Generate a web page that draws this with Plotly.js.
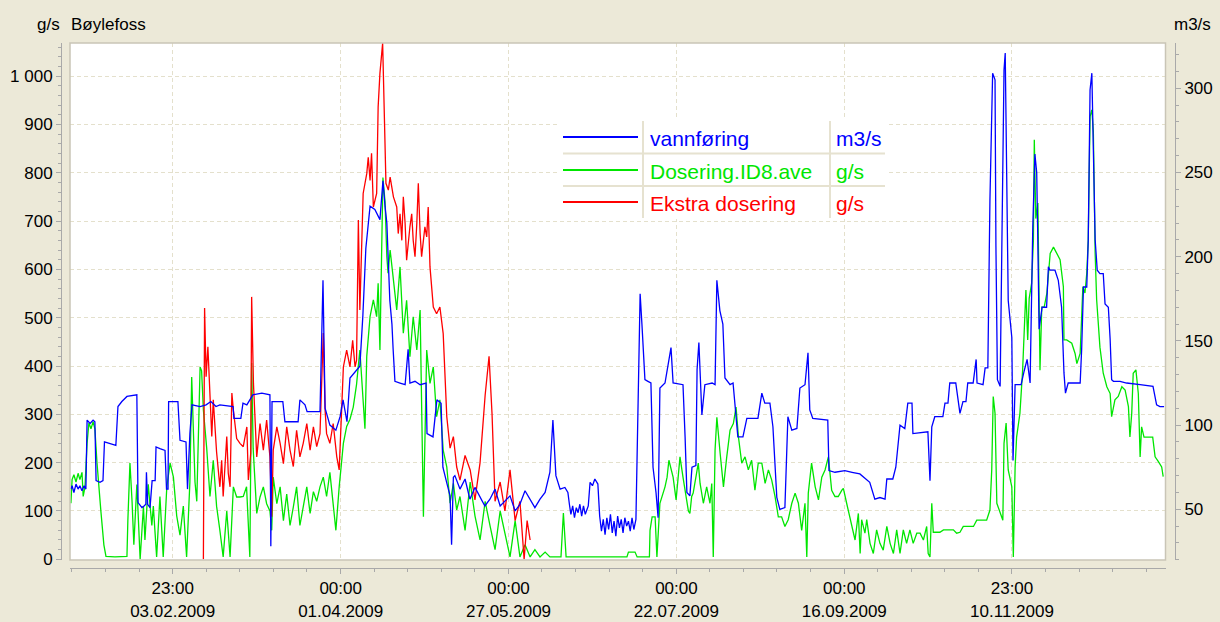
<!DOCTYPE html>
<html>
<head>
<meta charset="utf-8">
<script src="https://cdn.plot.ly/plotly-3.0.1.min.js"></script>
<style>
html,body{margin:0;padding:0;background:#ece9d8;}
#chart{width:1220px;height:622px;}
</style>
</head>
<body>
<div id="chart"></div>
<script>
// x values: days since 01.01.2009 00:00
const dayTicks = [33.958, 90, 146, 202, 258, 313.958];
const dayTickText = ['23:00<br>03.02.2009', '00:00<br>01.04.2009', '00:00<br>27.05.2009',
                     '00:00<br>22.07.2009', '00:00<br>16.09.2009', '23:00<br>10.11.2009'];
const gsTicks = [0, 100, 200, 300, 400, 500, 600, 700, 800, 900, 1000];
const gsTickText = ['0', '100', '200', '300', '400', '500', '600', '700', '800', '900', '1 000'];
const m3Ticks = [50, 100, 150, 200, 250, 300];

const seriesNames = ['vannføring', 'Dosering.ID8.ave', 'Ekstra dosering'];
const seriesUnits = ['m3/s', 'g/s', 'g/s'];

// vannføring (m3/s, right axis)
const flowDays = [0.0,0.4,1.0,1.7,2.4,3.0,3.7,4.4,5.0,5.4,6.4,7.4,8.0,8.4,9.7,10.7,11.2,13.0,15.0,15.7,17.0,18.7,22.0,22.4,23.7,24.4,25.0,25.2,25.6,26.4,27.1,28.1,28.4,29.7,31.4,31.9,32.4,32.6,35.7,36.4,38.4,38.9,39.7,40.4,43.1,45.1,46.7,48.4,49.7,54.1,54.4,56.7,57.4,58.7,60.7,63.7,66.4,66.7,67.1,70.7,71.4,75.8,76.4,78.1,78.8,83.1,84.1,84.8,86.4,88.4,89.8,90.8,92.1,93.1,95.1,96.4,97.4,98.4,99.8,101.4,103.1,104.1,104.8,105.4,106.4,107.1,107.5,108.1,109.8,111.5,112.5,113.1,114.8,116.5,118.5,118.8,120.8,122.1,123.5,124.1,125.5,126.5,127.0,127.6,128.1,129.8,131.5,133.1,134.8,136.5,138.1,139.8,141.5,143.2,144.8,146.5,148.2,149.8,151.5,153.2,154.8,156.5,158.2,159.8,160.8,161.8,163.2,164.8,165.8,166.3,166.8,167.4,168.0,168.6,169.2,169.8,170.4,171.0,171.6,172.2,172.6,173.2,174.0,174.8,175.8,176.4,177.0,177.6,178.2,178.8,179.4,180.0,180.6,181.2,181.8,182.4,183.0,183.6,184.2,184.8,185.4,186.0,186.6,187.2,187.8,188.5,189.0,189.9,190.5,191.5,192.5,193.5,194.2,195.2,195.9,196.5,198.2,200.2,200.9,203.2,204.2,204.9,205.5,206.5,207.2,208.5,208.9,209.5,210.5,211.5,213.9,214.9,215.2,215.5,216.5,217.5,218.2,219.9,220.9,221.5,222.5,224.2,225.5,229.2,230.5,231.5,233.2,234.2,235.5,236.5,238.2,239.2,240.5,242.2,243.2,244.9,245.9,246.5,247.5,252.5,252.9,254.9,258.2,260.6,263.2,266.5,268.2,269.9,271.6,272.2,274.2,275.2,276.6,278.2,279.2,280.6,280.9,285.9,286.6,287.2,288.2,290.9,291.6,292.6,293.2,295.2,296.6,297.6,298.6,299.2,301.0,302.0,302.3,304.3,305.0,305.9,306.6,307.5,308.3,308.6,309.1,310.0,310.6,311.3,311.7,312.2,312.7,313.9,314.3,315.0,317.0,318.0,319.0,320.0,320.9,321.6,322.2,322.5,323.0,324.0,325.5,326.1,326.6,328.3,329.4,330.5,331.3,331.8,332.7,336.7,337.2,337.8,338.9,339.4,340.0,340.6,341.1,341.7,342.4,343.3,344.4,345.0,346.1,346.7,347.2,347.8,350.0,352.2,356.7,361.0,362.2,363.3,364.7];
const flowValues = [62,64,60,65,62,64,61,64,62,103,101,103,102,67,66,67,90,89,88,111,114,117,118,54,51,52,53,72,53,51,67,67,87,86,85,62,62,114,114,91,90,62,95,112,111,112,114,111,112,111,104,104,113,112,118,119,118,28,114,114,102,102,115,112,108,108,186,110,100,97,105,115,102,128,132,135,165,205,230,228,222,245,230,220,174,160,145,126,125,124,145,125,126,124,125,95,93,115,113,75,65,58,29,69,70,62,68,56,63,57,52,56,62,52,55,58,49,53,61,56,51,56,60,72,103,70,62,63,60,53,47,52,45,51,48,53,46,52,47,50,52,66,64,68,65,46,37,44,35,45,38,47,36,43,34,46,39,44,36,45,40,43,37,45,38,44,89,178,160,127,126,125,75,60,45,122,125,146,125,124,124,93,60,58,75,76,133,149,106,124,125,124,162,186,168,160,128,124,125,111,93,93,104,104,119,113,113,99,57,50,51,105,97,98,122,124,143,109,104,103,73,72,73,72,71,66,56,57,56,68,68,75,100,98,113,113,95,96,67,99,105,105,113,113,125,125,107,114,114,125,125,139,125,124,134,134,234,309,305,206,127,123,229,311,321,253,174,152,79,124,124,132,139,125,218,261,250,218,157,170,170,194,192,192,186,170,131,119,125,125,145,182,182,210,299,309,269,210,192,190,190,172,170,151,127,126,126,125,124,123,112,111,111];

// Dosering.ID8.ave (g/s, left axis)
const doseDays = [0.0,0.4,1.0,1.7,2.4,3.0,3.7,4.1,4.7,5.4,6.0,6.7,7.4,8.0,8.7,9.4,10.0,11.0,11.7,14.7,18.7,19.0,19.7,20.4,21.0,22.0,23.1,24.2,24.7,25.8,27.0,27.5,28.6,29.7,30.8,32.0,33.1,34.2,35.3,36.4,37.5,38.6,39.7,40.3,41.4,42.0,43.1,43.6,44.2,45.3,46.4,47.5,48.6,49.7,50.8,52.0,53.1,54.2,55.3,56.4,57.5,58.6,59.7,60.3,60.8,62.0,63.1,64.2,65.3,66.4,67.0,67.5,68.7,69.8,70.9,72.0,73.1,74.2,75.3,76.4,77.5,78.7,79.8,80.9,82.0,83.1,84.2,85.3,86.4,87.5,88.4,89.5,90.9,92.0,93.1,94.2,95.3,96.4,97.5,98.1,98.7,99.8,100.9,102.0,102.5,103.1,104.1,104.8,105.4,105.8,106.5,107.6,108.7,109.8,110.9,112.0,113.1,114.2,115.4,116.5,117.6,118.7,119.8,120.9,122.0,123.1,124.2,125.4,126.5,127.6,128.7,129.8,131.5,133.2,134.8,136.5,138.2,139.8,141.5,143.2,144.8,146.5,148.2,149.8,151.5,153.2,154.8,156.5,158.2,159.8,163.5,164.3,165.2,185.5,186.0,188.2,188.9,193.0,193.2,193.9,194.9,195.5,196.0,196.5,198.2,198.9,199.5,200.9,201.9,203.2,204.2,205.4,206.0,206.5,207.1,207.6,208.8,209.3,209.9,211.0,212.1,213.2,213.8,214.3,214.9,215.5,216.6,217.7,218.8,219.9,221.0,221.9,222.7,223.8,224.9,226.0,227.1,228.2,229.3,230.5,231.6,232.7,233.8,234.9,236.0,237.1,238.2,239.3,240.5,241.6,242.7,243.8,244.9,245.5,246.0,247.1,248.3,249.4,250.5,251.6,252.7,253.8,254.9,256.0,257.2,257.7,258.8,260.5,261.6,262.7,263.3,263.8,264.9,265.5,266.6,267.7,268.8,269.9,271.0,272.2,273.3,274.4,275.5,276.6,277.7,278.8,279.9,281.0,282.2,283.3,284.4,285.5,286.0,286.6,287.2,287.7,289.9,291.1,294.4,295.5,296.6,297.7,301.1,302.2,305.5,306.6,307.2,307.7,308.3,308.9,310.0,310.9,311.3,312.0,312.7,313.9,314.4,315.0,315.5,316.6,317.5,318.6,319.2,319.7,320.5,321.1,321.4,321.9,322.6,323.0,323.3,323.9,324.7,325.6,326.7,327.8,328.9,330.0,331.1,331.3,332.2,333.9,335.0,335.6,336.7,337.6,338.3,338.9,339.4,340.0,340.6,341.1,341.7,342.2,343.3,344.4,345.6,346.7,347.2,348.3,349.4,350.6,351.7,352.8,353.3,353.9,354.4,355.3,356.1,356.7,357.2,358.0,360.9,361.7,362.8,363.9,364.4];
const doseValues = [116,165,175,160,178,165,180,130,150,240,282,270,285,270,200,140,100,30,6,5,6,80,199,120,30,155,0,110,40,155,70,110,5,130,5,150,199,170,90,50,110,5,160,377,160,120,398,390,309,230,130,205,110,60,5,100,5,150,129,129,130,150,5,406,230,95,129,150,115,100,60,170,115,150,80,135,70,108,150,70,110,150,95,140,120,150,170,130,180,110,60,150,240,275,290,315,362,433,330,270,420,502,537,502,571,433,790,740,626,592,640,571,516,605,468,536,419,502,433,516,88,433,364,398,295,330,226,191,116,157,102,130,60,160,90,40,120,70,20,100,55,5,80,5,30,5,20,5,15,5,5,96,5,5,15,15,5,5,60,88,88,5,60,116,150,170,205,170,123,212,170,123,100,95,130,137,185,199,157,116,150,116,157,5,226,294,219,150,212,267,281,315,253,199,212,185,205,143,199,199,157,185,164,130,88,88,68,82,116,137,116,60,116,5,137,199,150,123,170,185,212,143,130,130,143,147,116,68,40,95,12,82,54,82,33,12,61,33,19,68,33,12,61,12,61,33,61,33,54,54,40,68,12,5,116,56,56,61,61,54,56,68,68,81,81,102,185,337,302,116,95,81,240,282,185,150,5,191,253,302,391,557,454,540,571,660,868,705,737,489,391,522,522,551,633,646,633,620,564,454,454,447,426,405,426,564,551,592,660,916,930,885,633,537,439,385,357,343,295,330,337,357,350,316,253,302,385,392,343,212,274,253,253,212,202,191,171];

// Ekstra dosering (g/s, left axis)
const extraDays = [44.2,44.6,45.1,45.7,47.0,47.5,48.6,49.7,50.3,50.8,52.0,52.5,53.1,53.7,54.2,55.3,56.4,57.5,58.7,59.2,60.0,60.3,60.9,61.4,62.0,63.1,64.2,65.3,66.4,67.0,67.5,68.7,69.8,70.9,72.0,73.1,74.2,75.3,76.4,77.5,78.7,79.8,80.9,82.0,83.1,84.2,84.8,85.3,86.4,87.5,88.7,89.5,90.3,90.9,92.0,93.1,94.0,94.8,95.3,95.9,96.4,97.0,97.5,98.7,99.2,99.8,100.3,100.9,102.0,102.5,103.1,104.0,104.5,105.1,105.9,106.5,107.6,108.7,109.2,109.8,110.4,110.9,111.5,112.0,113.1,113.7,114.2,114.8,115.4,115.9,116.5,117.0,117.6,118.1,118.7,119.2,119.8,120.9,122.0,123.1,124.2,125.4,126.5,127.6,128.7,129.8,131.5,133.2,134.8,136.5,138.2,139.5,140.5,141.5,143.2,144.8,146.5,148.2,149.8,151.2,152.2,153.2];
const extraValues = [0,520,378,440,254,330,222,150,205,130,254,178,150,344,309,250,240,233,274,164,220,543,364,295,212,281,226,288,212,88,226,274,240,198,274,226,192,267,212,240,281,226,274,233,260,468,309,260,240,281,212,185,295,398,433,398,453,398,412,702,516,633,757,798,832,784,840,729,757,936,1006,1068,950,778,764,791,750,729,674,715,660,750,695,619,688,715,660,626,695,778,674,626,660,688,667,729,605,522,508,522,467,295,230,254,191,164,215,185,123,200,340,420,300,120,160,100,185,80,120,0,80,40];

const seriesColors = ['#0000ff', '#00e600', '#ff0000'];

// pixel helpers for layout furniture (paper area spans x 61..1175, y 43..568)
const L = 61, R = 1175, T = 43, B = 568;
const px = v => (v - L) / (R - L);
const py = v => (B - v) / (B - T);

const traces = [
  {x: flowDays, y: flowValues, yaxis: 'y2', type: 'scatter', mode: 'lines',
   line: {color: seriesColors[0], width: 1.3}, name: seriesNames[0], showlegend: false, hoverinfo: 'skip'},
  {x: doseDays, y: doseValues, yaxis: 'y', type: 'scatter', mode: 'lines',
   line: {color: seriesColors[1], width: 1.3}, name: seriesNames[1], showlegend: false, hoverinfo: 'skip'},
  {x: extraDays, y: extraValues, yaxis: 'y', type: 'scatter', mode: 'lines',
   line: {color: seriesColors[2], width: 1.3}, name: seriesNames[2], showlegend: false, hoverinfo: 'skip'}
];

const axisGrey = '#a9a9a9';
const gridCol = '#e4e0cc';
const tickFont = {family: 'Liberation Sans, Arial, sans-serif', size: 17, color: '#000'};

const shapes = [
  {type: 'rect', xref: 'x domain', yref: 'y domain', x0: 0, x1: 1, y0: 0, y1: 1,
   line: {color: '#c9c5b6', width: 1.5}, layer: 'above'}
];
const rowY = [137, 170, 202];
const annotations = [
  {xref: 'paper', yref: 'paper', x: px(62), y: py(24), xanchor: 'right', yanchor: 'middle',
   text: 'g/s', showarrow: false, font: tickFont},
  {xref: 'paper', yref: 'paper', x: px(69), y: py(24), xanchor: 'left', yanchor: 'middle',
   text: 'Bøylefoss', showarrow: false, font: tickFont},
  {xref: 'paper', yref: 'paper', x: px(1172), y: py(24), xanchor: 'left', yanchor: 'middle',
   text: 'm3/s', showarrow: false, font: tickFont}
];
// legend as a table (white box hides the grid behind it)
const sepCol = '#e6e2d0';
shapes.push({type: 'rect', xref: 'paper', yref: 'paper', x0: px(560), x1: px(887), y0: py(219), y1: py(119),
  fillcolor: '#ffffff', line: {width: 0}, layer: 'above'});
shapes.push({type: 'line', xref: 'paper', yref: 'paper', x0: px(563), x1: px(885), y0: py(153.5), y1: py(153.5), line: {color: sepCol, width: 2}});
shapes.push({type: 'line', xref: 'paper', yref: 'paper', x0: px(563), x1: px(885), y0: py(186), y1: py(186), line: {color: sepCol, width: 2}});
shapes.push({type: 'line', xref: 'paper', yref: 'paper', x0: px(643), x1: px(643), y0: py(121), y1: py(218), line: {color: sepCol, width: 2}});
shapes.push({type: 'line', xref: 'paper', yref: 'paper', x0: px(830), x1: px(830), y0: py(121), y1: py(218), line: {color: sepCol, width: 2}});
for (let i = 0; i < 3; i++) {
  shapes.push({type: 'line', xref: 'paper', yref: 'paper', x0: px(563), x1: px(638),
    y0: py(rowY[i]), y1: py(rowY[i]), line: {color: seriesColors[i], width: 2}});
  annotations.push({xref: 'paper', yref: 'paper', x: px(648), y: py(rowY[i] + 1), xanchor: 'left', yanchor: 'middle',
    text: seriesNames[i], showarrow: false, font: {family: 'Liberation Sans, Arial, sans-serif', size: 21, color: seriesColors[i]}});
  annotations.push({xref: 'paper', yref: 'paper', x: px(834), y: py(rowY[i] + 1), xanchor: 'left', yanchor: 'middle',
    text: seriesUnits[i], showarrow: false, font: {family: 'Liberation Sans, Arial, sans-serif', size: 21, color: seriesColors[i]}});
}

const layout = {
  width: 1220, height: 622,
  margin: {l: L, r: 1220 - R, t: T, b: 622 - B, pad: 0},
  paper_bgcolor: '#ece9d8',
  plot_bgcolor: '#ffffff',
  font: tickFont,
  showlegend: false,
  xaxis: {
    domain: [px(70), px(1165.5)], range: [-0.30, 365.17],
    anchor: 'free', position: 0,
    showline: true, linecolor: axisGrey, linewidth: 1,
    ticks: 'outside', ticklen: 5, tickcolor: axisGrey,
    tickmode: 'array', tickvals: dayTicks, ticktext: dayTickText,
    tickfont: tickFont, ticklabelstandoff: 0,
    showgrid: true, gridcolor: gridCol, griddash: '4px,3px', gridwidth: 1,
    zeroline: false,
    minor: {tickmode: 'linear', tick0: 33.958, dtick: 11.2, ticks: 'outside', ticklen: 3, tickcolor: axisGrey, showgrid: false}
  },
  yaxis: {
    domain: [py(560), 1], range: [-1.4, 1068.3],
    anchor: 'free', position: 0, side: 'left',
    showline: true, linecolor: axisGrey, linewidth: 1,
    ticks: 'outside', ticklen: 5, tickcolor: axisGrey,
    tickmode: 'array', tickvals: gsTicks, ticktext: gsTickText,
    tickfont: tickFont,
    showgrid: true, gridcolor: gridCol, griddash: '4px,3px', gridwidth: 1,
    zeroline: false,
    minor: {tickmode: 'linear', tick0: 0, dtick: 20, ticks: 'outside', ticklen: 3, tickcolor: axisGrey, showgrid: false}
  },
  yaxis2: {
    overlaying: 'y', side: 'right', anchor: 'free', position: 1,
    range: [19.9, 326.9],
    showline: true, linecolor: axisGrey, linewidth: 1,
    ticks: 'outside', ticklen: 5, tickcolor: axisGrey,
    tickmode: 'array', tickvals: m3Ticks, ticktext: m3Ticks.map(String),
    tickfont: tickFont,
    showgrid: false, zeroline: false,
    minor: {tickmode: 'linear', tick0: 0, dtick: 10, ticks: 'outside', ticklen: 3, tickcolor: axisGrey, showgrid: false}
  },
  shapes: shapes,
  annotations: annotations
};

Plotly.newPlot('chart', traces, layout, {staticPlot: true, displayModeBar: false});
</script>
</body>
</html>
